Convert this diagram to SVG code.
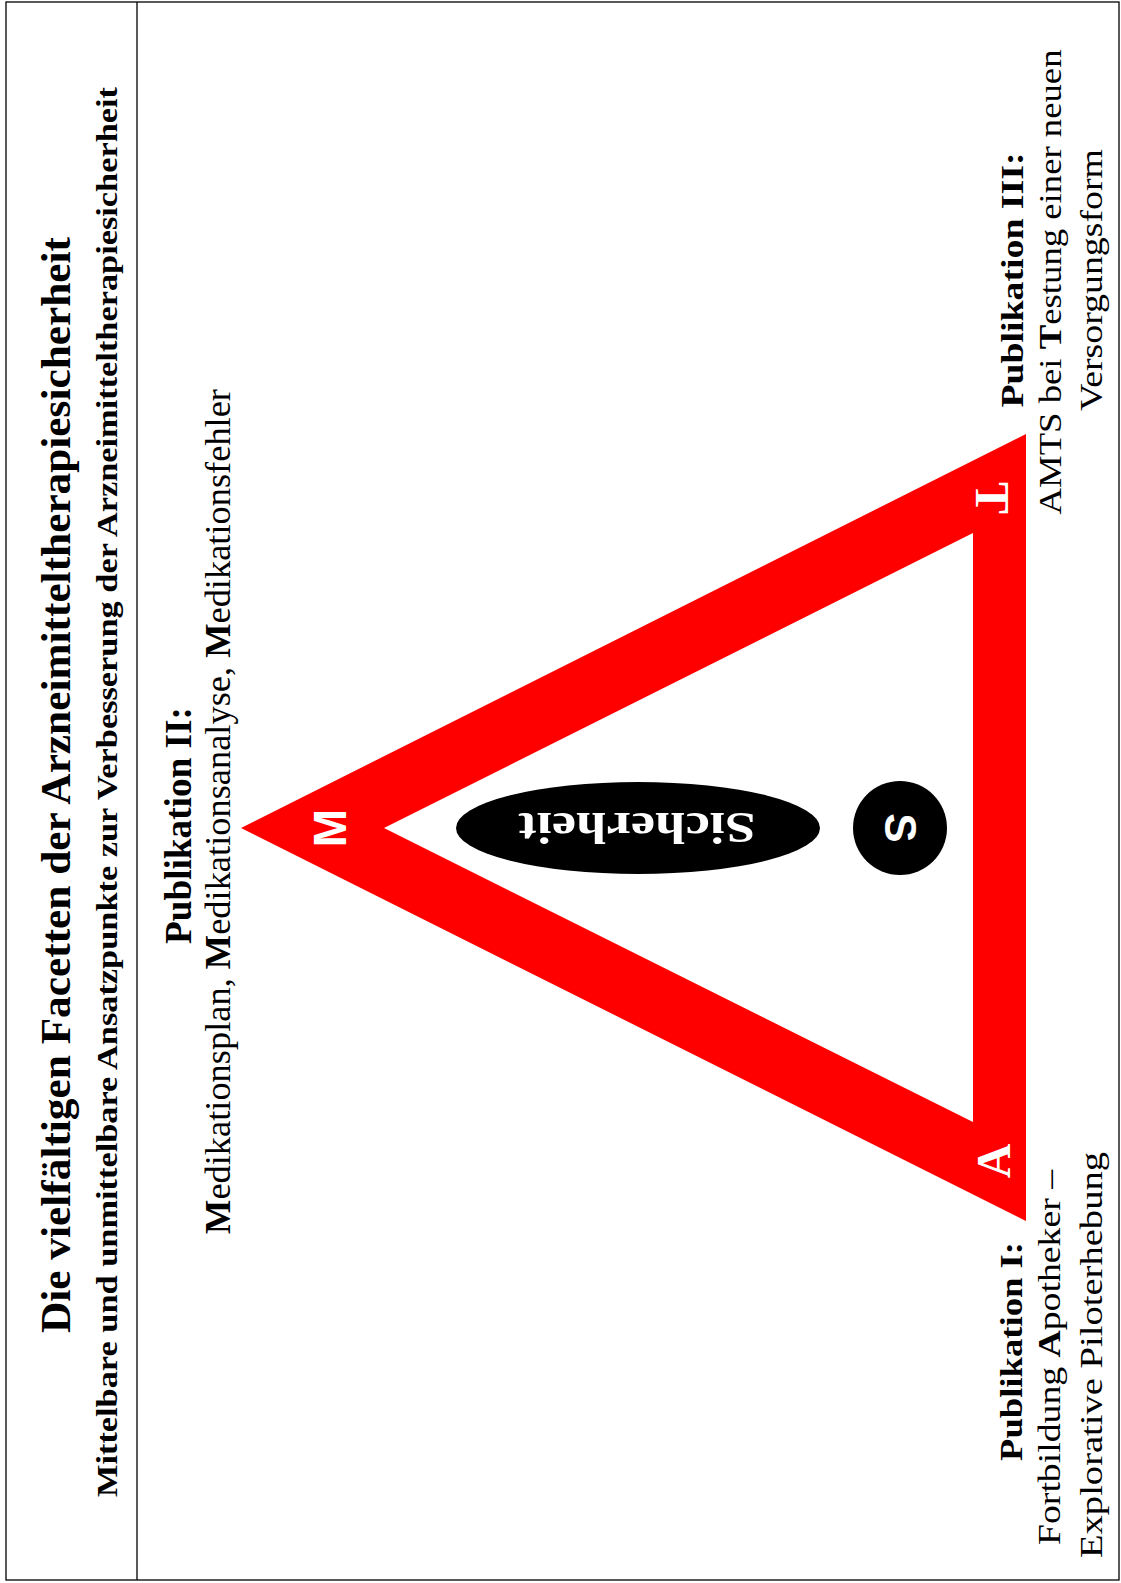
<svg xmlns="http://www.w3.org/2000/svg" width="1121" height="1583" viewBox="0 0 1121 1583">
<style>
.b{font-family:"Liberation Serif","Times New Roman",serif;font-weight:bold;fill:#000}
.r{font-family:"Liberation Serif","Times New Roman",serif;font-weight:normal;fill:#000}
.w{font-family:"Liberation Serif","Times New Roman",serif;font-weight:bold;fill:#fff}
.ws{font-family:"Liberation Sans",Arial,sans-serif;font-weight:bold;fill:#fff}
.line{stroke:#000;stroke-width:1.3;fill:none}
</style>
<rect id="frame" class="line" x="6" y="2" width="1113" height="1578"/>
<g id="connectors">
<line class="line" x1="137" y1="2" x2="137" y2="1580"/>
</g>
<g id="header">
<text class="b" font-size="43" text-anchor="middle" transform="translate(70,785) rotate(-90)" textLength="1096" lengthAdjust="spacingAndGlyphs">Die vielfältigen Facetten der Arzneimitteltherapiesicherheit</text>
<text class="b" font-size="30" text-anchor="middle" transform="translate(117,792) rotate(-90)" textLength="1410" lengthAdjust="spacingAndGlyphs">Mittelbare und unmittelbare Ansatzpunkte zur Verbesserung der Arzneimitteltherapiesicherheit</text>
</g>
<g id="triangle">
<path d="M241,828 L1026,434 L1026,1221 Z M384,828 L973,1122 L973,533 Z" fill="#ff0000" fill-rule="evenodd"/>
<text class="ws" font-size="46" text-anchor="middle" transform="translate(346,828) rotate(-90)">M</text>
<text class="w" font-size="48" text-anchor="middle" transform="translate(976,498) rotate(90)">T</text>
<text class="w" font-size="48" text-anchor="middle" transform="translate(1010,1161) rotate(-90)">A</text>
</g>
<g id="sicherheit">
<ellipse cx="638" cy="828" rx="182" ry="46" fill="#000"/>
<text class="w" font-size="44" text-anchor="middle" transform="translate(637,813) rotate(180)" textLength="237" lengthAdjust="spacingAndGlyphs">Sicherheit</text>
</g>
<g id="s-circle">
<circle cx="900" cy="828" r="47" fill="#000"/>
<text class="ws" font-size="44" text-anchor="middle" transform="translate(885,828) rotate(90)">S</text>
</g>
<g id="pub2">
<text class="b" font-size="38" text-anchor="middle" transform="translate(191,825.5) rotate(-90)" textLength="237" lengthAdjust="spacingAndGlyphs">Publikation II:</text>
<text class="r" font-size="36" text-anchor="middle" transform="translate(230,811.5) rotate(-90)" textLength="845" lengthAdjust="spacingAndGlyphs"><tspan font-weight="bold">M</tspan>edikationsplan, <tspan font-weight="bold">M</tspan>edikationsanalyse, <tspan font-weight="bold">M</tspan>edikationsfehler</text>
</g>
<g id="pub1">
<text class="b" font-size="32" text-anchor="middle" transform="translate(1022,1351.5) rotate(-90)" textLength="219" lengthAdjust="spacingAndGlyphs">Publikation I:</text>
<text class="r" font-size="31" text-anchor="middle" transform="translate(1060,1357.5) rotate(-90)" textLength="375" lengthAdjust="spacingAndGlyphs">Fortbildung <tspan font-weight="bold">A</tspan>potheker –</text>
<text class="r" font-size="31" text-anchor="middle" transform="translate(1102,1355) rotate(-90)" textLength="406" lengthAdjust="spacingAndGlyphs">Explorative Piloterhebung</text>
</g>
<g id="pub3">
<text class="b" font-size="32" text-anchor="middle" transform="translate(1023,280) rotate(-90)" textLength="255" lengthAdjust="spacingAndGlyphs">Publikation III:</text>
<text class="r" font-size="31" text-anchor="middle" transform="translate(1061,282) rotate(-90)" textLength="465" lengthAdjust="spacingAndGlyphs">AMTS bei <tspan font-weight="bold">T</tspan>estung einer neuen</text>
<text class="r" font-size="31" text-anchor="middle" transform="translate(1102,280) rotate(-90)" textLength="262" lengthAdjust="spacingAndGlyphs">Versorgungsform</text>
</g>
</svg>
